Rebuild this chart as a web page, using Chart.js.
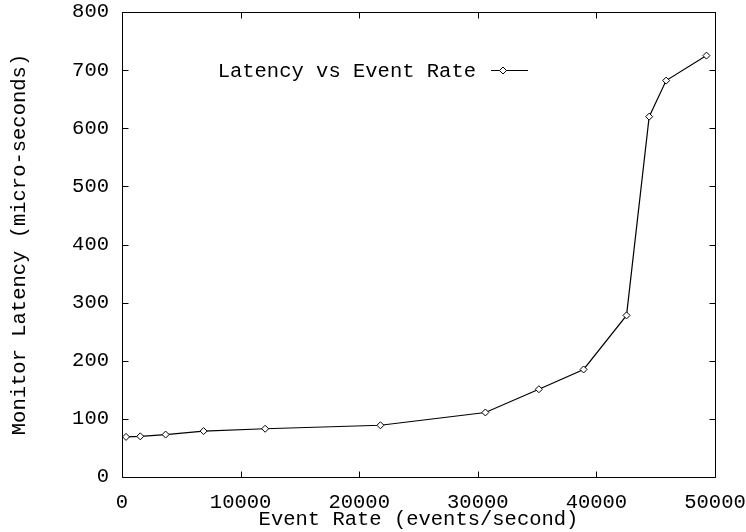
<!DOCTYPE html>
<html>
<head>
<meta charset="utf-8">
<script src="https://cdn.jsdelivr.net/npm/chart.js@4/dist/chart.umd.min.js"></script>
<style>
html,body{margin:0;padding:0;background:#fff;}
#wrap{width:746px;height:532px;position:relative;}
</style>
</head>
<body>
<div id="wrap"><canvas id="c" width="746" height="532"></canvas></div>
<script>
const seriesLabel = 'Latency vs Event Rate';
const eventRates = [340, 1540, 3680, 6880, 12070, 21790, 30640, 35150, 38920, 42540, 44450, 45880, 49280];
const latencies  = [69, 70, 73, 79, 83, 89, 111, 151, 185, 278, 620, 682, 725];
const xTitle = 'Event Rate (events/second)';
const yTitle = 'Monitor Latency (micro-seconds)';
const xRange = [0, 50000];
const yRange = [0, 800];
const xStep = 10000;
const yStep = 100;

const FONT = "'Liberation Mono', 'Courier New', monospace";
const FS = 20.5;

const framePlugin = {
  id: 'frame',
  afterDraw(chart) {
    const ctx = chart.ctx;
    const a = chart.chartArea;
    const xs = chart.scales.x, ys = chart.scales.y;
    ctx.save();
    ctx.strokeStyle = '#000';
    ctx.lineWidth = 1;
    const L = Math.round(a.left) + 0.5, R = Math.round(a.right) + 0.5;
    const T = Math.round(a.top) + 0.5, B = Math.round(a.bottom) + 0.5;
    ctx.beginPath();
    ctx.rect(L, T, R - L, B - T);
    ctx.stroke();
    const tl = 6;
    ctx.beginPath();
    xs.ticks.forEach(t => {
      const px = Math.round(xs.getPixelForValue(t.value)) + 0.5;
      ctx.moveTo(px, B); ctx.lineTo(px, B - tl);
      ctx.moveTo(px, T); ctx.lineTo(px, T + tl);
    });
    ys.ticks.forEach(t => {
      const py = Math.round(ys.getPixelForValue(t.value)) + 0.5;
      ctx.moveTo(L, py); ctx.lineTo(L + tl, py);
      ctx.moveTo(R, py); ctx.lineTo(R - tl, py);
    });
    ctx.stroke();

    // gnuplot-style key
    const ds = chart.data.datasets[0];
    ctx.font = FS + 'px ' + FONT;
    ctx.fillStyle = '#000';
    ctx.textAlign = 'right';
    ctx.textBaseline = 'middle';
    ctx.fillText(ds.label, 476, 72);
    ctx.beginPath();
    ctx.moveTo(491, 70.5); ctx.lineTo(528, 70.5);
    ctx.stroke();
    ctx.beginPath();
    const cx = 503, cy = 70.5, r = 3.5;
    ctx.moveTo(cx - r, cy); ctx.lineTo(cx, cy - r); ctx.lineTo(cx + r, cy); ctx.lineTo(cx, cy + r); ctx.closePath();
    ctx.fillStyle = '#fff';
    ctx.fill();
    ctx.stroke();
    ctx.restore();
  }
};

new Chart(document.getElementById('c'), {
  type: 'line',
  data: {
    datasets: [{
      label: seriesLabel,
      data: eventRates.map((x, i) => ({x: x, y: latencies[i]})),
      borderColor: '#000',
      borderWidth: 1.2,
      backgroundColor: '#fff',
      pointStyle: 'rectRot',
      pointRadius: 3.5,
      pointBorderWidth: 1,
      pointBorderColor: '#000',
      pointBackgroundColor: '#fff',
      tension: 0,
      fill: false
    }]
  },
  options: {
    responsive: false,
    animation: false,
    events: [],
    layout: { padding: { left: 0, right: 31, top: 12, bottom: 0 } },
    plugins: { legend: { display: false }, tooltip: { enabled: false }, title: { display: false } },
    scales: {
      x: {
        type: 'linear',
        min: xRange[0], max: xRange[1],
        grid: { display: false, drawTicks: false },
        border: { display: false },
        ticks: { stepSize: xStep, color: '#000', font: { family: FONT, size: FS }, padding: 13, maxRotation: 0,
                 callback: v => String(v) },
        title: { display: true, text: xTitle, color: '#000', font: { family: FONT, size: FS }, padding: 0 },
        afterFit(s) { s.height = 55; s.paddingLeft = 0; s.paddingRight = 0; }
      },
      y: {
        type: 'linear',
        min: yRange[0], max: yRange[1],
        grid: { display: false, drawTicks: false },
        border: { display: false },
        ticks: { stepSize: yStep, color: '#000', font: { family: FONT, size: FS }, padding: 13,
                 callback: v => String(v) },
        title: { display: true, text: yTitle, color: '#000', font: { family: FONT, size: FS }, padding: { top: 7, bottom: 0 } },
        afterFit(s) { s.width = 122; s.paddingTop = 0; s.paddingBottom = 0; }
      }
    }
  },
  plugins: [framePlugin]
});
</script>
</body>
</html>
